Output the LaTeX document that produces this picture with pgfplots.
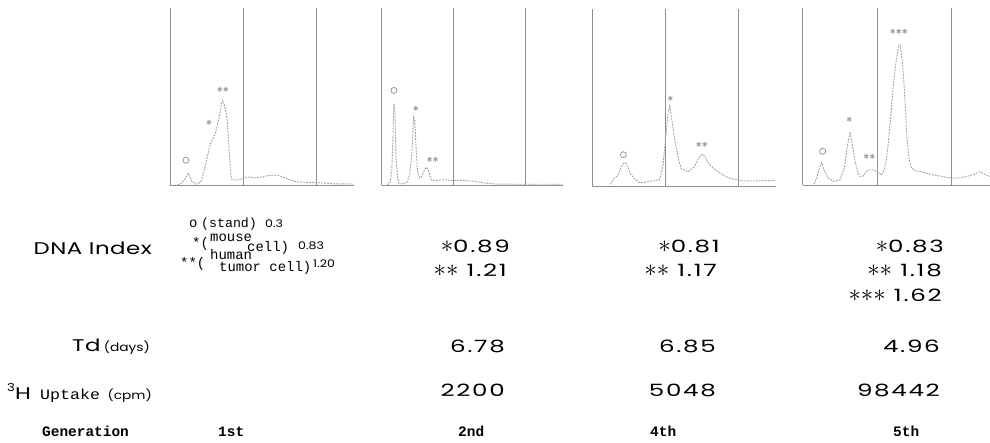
\documentclass[border=0pt]{standalone}
\usepackage{fontspec}
\usepackage{pgfplots}
\pgfplotsset{compat=1.18}
\setmainfont{Poppins}[FakeStretch=1.25]
\newfontfamily\numf{Poppins}[FakeStretch=1.45,LetterSpace=10]
\newfontfamily\wordf{Poppins}[FakeStretch=1.35,LetterSpace=3]
\newfontfamily\smallsans{Poppins}[FakeStretch=1.2]
\newfontfamily\upf{Liberation Mono}[FakeStretch=1.15]
\setmonofont{Liberation Mono}
\newcommand{\bigf}{\numf\fontsize{17}{17}\selectfont}
\newcommand{\bigw}{\wordf\fontsize{17}{17}\selectfont}
\newcommand{\st}{{\fontsize{25}{25}\selectfont$\ast$}}
\definecolor{axgray}{HTML}{8E8E8E}
\definecolor{curvegray}{HTML}{A0A0A0}
\definecolor{labgray}{HTML}{8A8A8A}
\pgfplotsset{panel/.style={
  scale only axis, width=184bp, height=177bp,
  xmin=0, xmax=252, ymin=0, ymax=100,
  axis x line=bottom, axis y line=left,
  axis line style={-, axgray, line width=0.6pt},
  xtick={100,200}, ytick=\empty, xticklabels={},
  major tick length=0pt, xmajorgrids,
  grid style={axgray, line width=0.6pt},
  clip=false, anchor=south west},
  curve/.style={curvegray, line width=0.9pt, dash pattern=on 1.8pt off 1.2pt, mark=none},
}
\tikzset{lab/.style={text=labgray, font=\sffamily\bfseries\fontsize{11}{11}\selectfont, inner sep=0pt},
  olab/.style={draw=labgray, circle, minimum size=6bp, inner sep=0pt, line width=0.7pt}}
\begin{document}
\begin{tikzpicture}[x=1bp,y=1bp]
\useasboundingbox (0,0) rectangle (990,443);
% ---------- panel 1
\begin{axis}[panel, at={(170bp,258bp)}]
\addplot[curve] coordinates {(10,0) (14,0.5) (20,3) (25,6.6) (30,2) (36,0.5) (42,1.5) (46,6.6) (50,14) (55,23) (62,29) (66,36) (69,42) (71.5,48) (74,46) (78,38) (81,20) (83,6.6) (85,2.8) (92,2.8) (99,3.5) (106,4.7) (115,4) (125,4.5) (135,5.3) (143,5.6) (150,5.3) (160,3.5) (171,1.9) (185,1.5) (203,1.3) (215,1) (226,0.6) (244,0.6) (252,0.5)};
\node[olab] at (axis cs:21.8,14) {};
\node[lab] at (axis cs:53.5,34) {*};
\node[lab] at (axis cs:72.5,53) {**};
\end{axis}
% ---------- panel 2
\begin{axis}[panel, width=181bp, at={(381.7bp,258bp)}]
\addplot[curve] coordinates {(8,0) (12,2) (14,8) (15.5,25) (17,46) (18.5,40) (20,15) (22,5) (24,1) (30,0.5) (36,2) (39,6) (42,18) (44.5,39) (46,36) (48,20) (50,7) (53,4) (56,5) (60,9) (63,10) (66,7) (69,3) (75,2.5) (85,3) (100,2.5) (115,2.6) (130,2) (145,1) (160,0.5) (200,0.4) (252,0.4)};
\node[olab] at (axis cs:17,53.4) {};
\node[lab] at (axis cs:47.6,42) {*};
\node[lab] at (axis cs:70.8,13.4) {**};
\end{axis}
% ---------- panel 3
\begin{axis}[panel, width=184bp, at={(592.3bp,257bp)}]
\addplot[curve] coordinates {(25,1) (29,3.9) (35,6) (40,11) (44,13.3) (47,12.5) (52,7) (58,4) (64,2) (70,2) (81,2.8) (92,3.5) (97,12) (101,30) (104,42) (106,45) (108,40) (113,26) (118,15) (122,9.7) (131,7.9) (140,11) (146,16) (150,18) (154,17) (159,13) (166,10) (173,7.9) (182,5.5) (191,4.1) (205,3) (220,2.8) (232,3) (250,3)};
\node[olab] at (axis cs:42.5,17.7) {};
\node[lab] at (axis cs:107,48.5) {*};
\node[lab] at (axis cs:150,22.3) {**};
\end{axis}
% ---------- panel 4
\begin{axis}[panel, width=187bp, xmax=251, at={(802.7bp,258bp)}]
\addplot[curve] coordinates {(15,0.5) (18.7,3.8) (22,9) (25.5,12.4) (29,8) (34,4) (41,2) (50,2.9) (56,10) (60,22) (63.5,30) (66,24) (70,14) (74,7) (77,4.8) (81,5) (85,7.5) (89,8.6) (94,8.6) (99,7.6) (106,5.7) (110,9) (113,16) (117,33) (122,58) (126,72) (129,79) (131,79) (133,72) (135,63.8) (138,42) (140,25.7) (143,14) (146,9.5) (152,8) (158,7.6) (165,6.8) (175,5.7) (185,5) (195,4.2) (202,3.8) (210,4) (220,4.8) (230,6) (238,7.6) (244,6) (251,4.8)};
\node[olab] at (axis cs:26.8,19) {};
\node[lab] at (axis cs:62.5,36) {*};
\node[lab] at (axis cs:89.4,15.2) {**};
\node[lab] at (axis cs:129,85.7) {***};
\end{axis}
% ---------- table
\tikzset{every node/.style={inner sep=0pt}}
\node[anchor=base east, font=\bigw] at (152,{443-255}) {DNA Index};
\node[anchor=base east] at (150,{443-352}) {{\bigw Td} {\smallsans\fontsize{11.5}{11.5}\selectfont(days)}};
\node[anchor=base west, font=\smallsans\fontsize{11}{11}\selectfont] at (7,{443-392}) {3};
\node[anchor=base west, font=\bigw] at (15,{443-400}) {H};
\node[anchor=base west, font=\upf\fontsize{14.5}{14.5}\selectfont] at (40,{443-400}) {Uptake};
\node[anchor=base east, font=\smallsans\fontsize{11.5}{11.5}\selectfont] at (152,{443-400}) {(cpm)};
% legend of DNA index
\node[anchor=base west, font=\ttfamily\fontsize{14}{14}\selectfont] at (189,{443-228}) {o};
\node[anchor=base west, font=\ttfamily\fontsize{13.3}{13.3}\selectfont] at (201,{443-228}) {(stand)};
\node[anchor=base west, font=\smallsans\fontsize{10.5}{10.5}\selectfont] at (265,{443-228}) {0.3};
\node[anchor=base west, font=\ttfamily\fontsize{14}{14}\selectfont] at (192,{443-248}) {*(};
\node[anchor=base west, font=\ttfamily\fontsize{14}{14}\selectfont] at (210,{443-241.5}) {mouse};
\node[anchor=base west, font=\ttfamily\fontsize{14}{14}\selectfont] at (247,{443-251.5}) {cell)};
\node[anchor=base west, font=\smallsans\fontsize{10.5}{10.5}\selectfont] at (298,{443-250}) {0.83};
\node[anchor=base west, font=\ttfamily\fontsize{14}{14}\selectfont] at (180,{443-268}) {**(};
\node[anchor=base west, font=\ttfamily\fontsize{14}{14}\selectfont] at (210,{443-260}) {human};
\node[anchor=base west, font=\ttfamily\fontsize{14}{14}\selectfont] at (219,{443-272}) {tumor cell)};
\node[anchor=base west, font=\smallsans\fontsize{10.5}{10.5}\selectfont] at (313,{443-268}) {1.20};
% DNA index values
\node[anchor=base east, font=\bigf] at (510,{443-253}) {\st0.89};
\node[anchor=base east, font=\bigf] at (507,{443-277}) {\st\st\ 1.21};
\node[anchor=base east, font=\bigf] at (720,{443-253}) {\st0.81};
\node[anchor=base east, font=\bigf] at (717,{443-277}) {\st\st\ 1.17};
\node[anchor=base east, font=\bigf] at (944,{443-253}) {\st0.83};
\node[anchor=base east, font=\bigf] at (942,{443-277}) {\st\st\ 1.18};
\node[anchor=base east, font=\bigf] at (942,{443-302}) {\st\st\st\ 1.62};
% Td
\node[anchor=base east, font=\bigf] at (505,{443-353}) {6.78};
\node[anchor=base east, font=\bigf] at (716,{443-353}) {6.85};
\node[anchor=base east, font=\bigf] at (940,{443-353}) {4.96};
% uptake
\node[anchor=base east, font=\bigf] at (505,{443-397}) {2200};
\node[anchor=base east, font=\bigf] at (716,{443-397}) {5048};
\node[anchor=base east, font=\bigf] at (940,{443-397}) {98442};
% generation
\node[anchor=base west, font=\ttfamily\bfseries\fontsize{14.5}{14.5}\selectfont] at (42,{443-437}) {Generation};
\node[anchor=base west, font=\ttfamily\bfseries\fontsize{14.5}{14.5}\selectfont] at (218,{443-437}) {1st};
\node[anchor=base west, font=\ttfamily\bfseries\fontsize{14.5}{14.5}\selectfont] at (458,{443-437}) {2nd};
\node[anchor=base west, font=\ttfamily\bfseries\fontsize{14.5}{14.5}\selectfont] at (650,{443-437}) {4th};
\node[anchor=base west, font=\ttfamily\bfseries\fontsize{14.5}{14.5}\selectfont] at (893,{443-437}) {5th};
\end{tikzpicture}
\end{document}
